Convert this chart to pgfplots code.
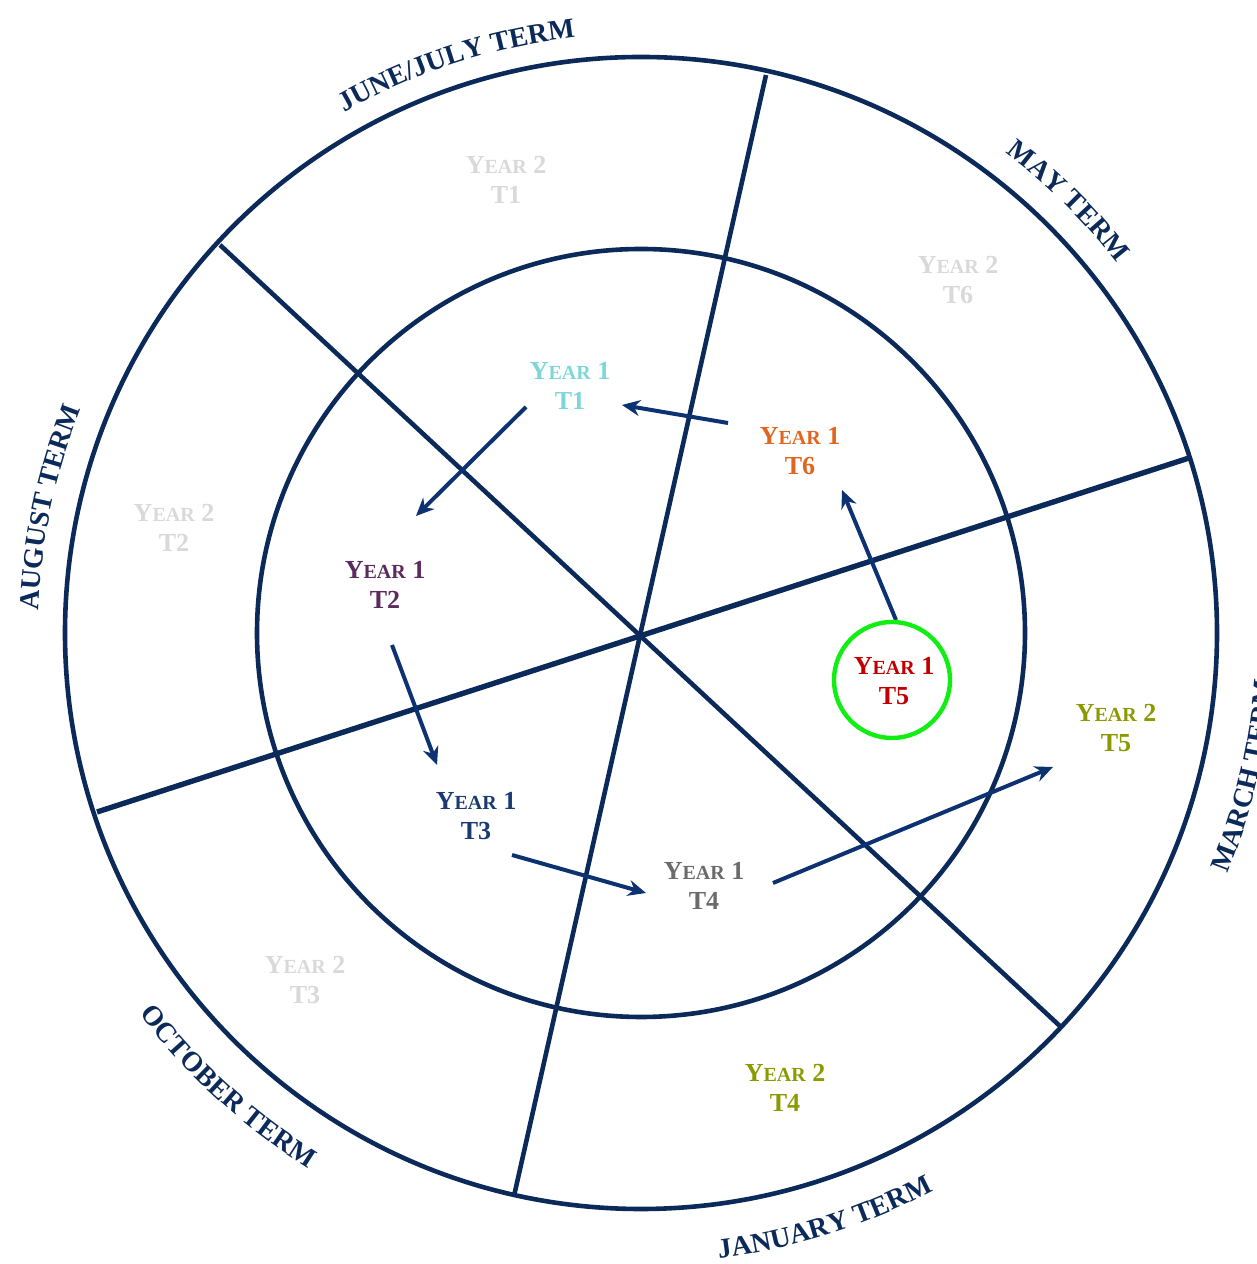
\documentclass[border=0pt]{standalone}
\usepackage{pgfplots}
\pgfplotsset{compat=1.18}
\usepackage{fontspec}
\setmainfont{Liberation Serif}
\usetikzlibrary{arrows.meta,decorations.text}
\definecolor{navy}{HTML}{0B2A5A}
\definecolor{arrowblue}{HTML}{0D3272}
\definecolor{lgray}{HTML}{D9D9D9}
\definecolor{ycyan}{HTML}{7DD6DA}
\definecolor{yorange}{HTML}{E0661F}
\definecolor{ypurple}{HTML}{5C2A5E}
\definecolor{yred}{HTML}{C00000}
\definecolor{yolive}{HTML}{8A9A00}
\definecolor{ynavy}{HTML}{1A3A70}
\definecolor{ygray}{HTML}{6B6B6B}
\definecolor{ygreen}{HTML}{11EE11}
\newcommand{\sm}{\fontsize{10}{15}\selectfont}
\newcommand{\yearlab}[5]{\node[align=center,text=#5,font=\bfseries\fontsize{13}{15}\selectfont] at (axis cs:#1,#2) {Y{\sm EAR} #3\\T#4};}
\newcommand{\outtop}[4]{\path[shift={(axis cs:0,0)},decorate,decoration={text along path,text align=center,text color=navy,text={|\bfseries\fontsize{14}{14}\selectfont|#4}}] (#1:#3) arc[start angle=#1,end angle=#2,radius=#3];}
\begin{document}
\begin{tikzpicture}
\begin{axis}[at={(0,0)},anchor=south west,scale only axis,width=628.5pt,height=632pt,
  xmin=-641,xmax=616,ymin=-631,ymax=633,hide axis,clip=false]
% sector lines
\addplot[navy,line width=2.3pt] coordinates {(125,558) (-127,-563)};
\addplot[navy,line width=2.3pt] coordinates {(-421,388) (421,-395)};
\addplot[navy,line width=2.7pt] coordinates {(-544,-179) (548,175)};
% rings
\draw[navy,line width=2.3pt] (axis cs:0,0) circle[radius=288pt];
\draw[navy,line width=2.3pt] (axis cs:0,0) circle[radius=192pt];
% outer labels
\outtop{65.3}{25.3}{301.5pt}{MAY TERM}
\outtop{128}{88}{299.5pt}{JUNE/JULY TERM}
\outtop{188}{148}{301.5pt}{AUGUST TERM}
\outtop{207.7}{247.7}{315pt}{OCTOBER TERM}
\outtop{267.4}{307.4}{315pt}{JANUARY TERM}
\outtop{326.7}{366.7}{317pt}{MARCH TERM}
% arrows
\addplot[arrowblue,line width=2pt,-{Stealth[length=9pt,width=8pt]}] coordinates {(87,210) (-19,228)};
\addplot[arrowblue,line width=2pt,-{Stealth[length=9pt,width=8pt]}] coordinates {(-115,226) (-225,117)};
\addplot[arrowblue,line width=2pt,-{Stealth[length=9pt,width=8pt]}] coordinates {(-249,-12) (-204,-132)};
\addplot[arrowblue,line width=2pt,-{Stealth[length=9pt,width=8pt]}] coordinates {(-129,-222) (5,-260)};
\addplot[arrowblue,line width=2pt,-{Stealth[length=9pt,width=8pt]}] coordinates {(132,-250) (412,-134)};
\addplot[arrowblue,line width=2pt,-{Stealth[length=9pt,width=8pt]}] coordinates {(255,13) (201,143)};
% highlight
\draw[ygreen,line width=2.2pt] (axis cs:251,-47) circle[radius=29pt];
% year labels
\yearlab{-135}{453}{2}{1}{lgray}
\yearlab{317}{353}{2}{6}{lgray}
\yearlab{-71}{247}{1}{1}{ycyan}
\yearlab{159}{182}{1}{6}{yorange}
\yearlab{-467}{105}{2}{2}{lgray}
\yearlab{-256}{48}{1}{2}{ypurple}
\yearlab{253}{-48}{1}{5}{yred}
\yearlab{475}{-95}{2}{5}{yolive}
\yearlab{-165}{-183}{1}{3}{ynavy}
\yearlab{63}{-253}{1}{4}{ygray}
\yearlab{-336}{-347}{2}{3}{lgray}
\yearlab{144}{-455}{2}{4}{yolive}
\end{axis}
\pgfresetboundingbox
\path[use as bounding box] (0,0) rectangle (628.5pt,632pt);
\end{tikzpicture}
\end{document}
